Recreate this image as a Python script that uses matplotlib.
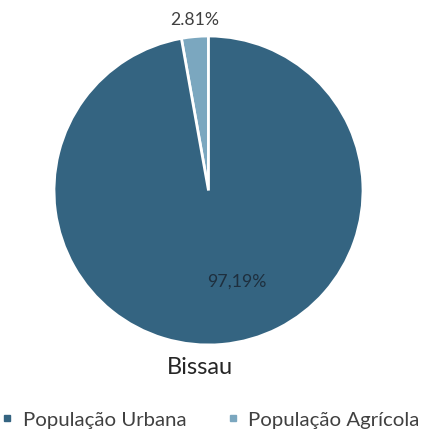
import matplotlib
matplotlib.use("Agg")
from matplotlib import pyplot as plt
from matplotlib.lines import Line2D

plt.rcParams['font.family'] = ['Lato', 'DejaVu Sans']

# Bissau: partes da populacao (%)
categorias = ["População Agrícola", "População Urbana"]
valores = [2.81, 97.19]
separadores = [".", ","]
cores = ["#7BA7BF", "#346481"]
titulo = "Bissau"

fig = plt.figure(figsize=(4.21, 4.31), dpi=100)
ax = fig.add_axes([54 / 421, 85 / 431, 309 / 421, 309 / 431])

wedges, _ = ax.pie(valores, colors=cores, startangle=90, counterclock=True,
                   radius=1.0, wedgeprops=dict(edgecolor="white", linewidth=2))
ax.set_xlim(-1, 1)
ax.set_ylim(-1, 1)
ax.set_aspect("auto")
ax.axis("off")

rotulos = [f"{v:.2f}".replace(".", s) + "%" for v, s in zip(valores, separadores)]
ax.text(-0.09, 1.11, rotulos[0], ha="center", va="center", fontsize=12.7, color="#404040")
ax.text(0.184, -0.586, rotulos[1], ha="center", va="center", fontsize=12.8, color="#1e2f3e")

fig.text(200 / 421, 1 - 368 / 431, titulo, ha="center", va="center", fontsize=17, color="#262626")

handles = [Line2D([0], [0], marker="s", linestyle="", markersize=4.5, color=cores[1]),
           Line2D([0], [0], marker="s", linestyle="", markersize=4.5, color=cores[0])]
fig.legend(handles, [categorias[1], categorias[0]], loc="center", ncol=2,
           bbox_to_anchor=(0.5, 1 - 420 / 431), frameon=False, fontsize=14.7,
           handlelength=0.6, handletextpad=0.45, columnspacing=2.0,
           labelcolor="#404040")

fig.savefig("out.png", dpi=100)
